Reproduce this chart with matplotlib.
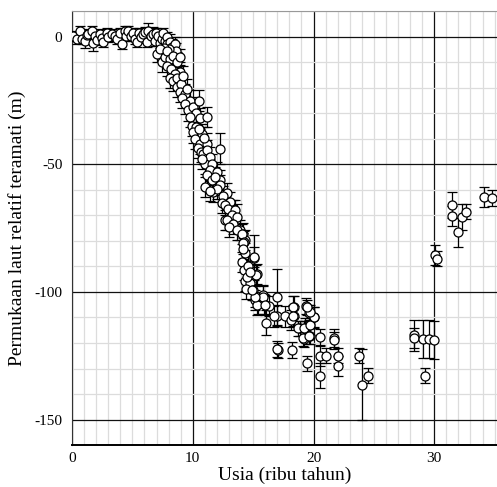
import matplotlib
matplotlib.use("Agg")
import matplotlib.pyplot as plt
from matplotlib.ticker import MultipleLocator

plt.rcParams['font.family'] = ['Liberation Serif', 'DejaVu Serif']
plt.rcParams['axes.unicode_minus'] = False

# Holocene plateau (ka, m, err)
holo_age = [0.05, 0.4, 0.66, 0.8, 1.08, 1.2, 1.35, 1.63, 1.75, 1.9, 2.1, 2.32, 2.45, 2.6,
            2.87, 3.0, 3.29, 3.56, 3.75, 3.98, 4.12, 4.39, 4.5, 4.67, 4.86, 5.08, 5.2, 5.36,
            5.58, 5.75, 5.91, 6.05, 6.19, 6.32, 6.5, 6.74, 6.85, 6.96, 7.15, 7.3, 7.43, 7.57,
            7.7, 7.85]
holo_level = [0.4, -1.0, 2.3, -0.9, -1.6, 0.5, 1.0, 2.1, -2.5, 0.4, -1.2, 1.0, -0.5, -2.2,
              1.3, 0.0, 1.0, 0.4, -1.0, 1.3, -2.9, 2.1, 0.2, 2.3, 0.4, 1.6, -0.8, -2.2,
              1.6, -0.3, 1.0, 2.0, -2.2, 2.3, 0.2, 1.0, -1.5, 1.6, 0.4, -2.5, -0.9, 1.3,
              -1.8, -0.3]
holo_err = [2, 2, 2, 2, 3, 2, 2, 2, 3, 2, 2, 2, 2, 2,
            2, 2, 2, 2, 2, 2, 2, 2, 2, 2, 2, 2, 2, 2,
            2, 2, 2, 2, 2, 3, 2, 3, 2, 2, 2, 2, 2, 2,
            2, 2]

# deglaciation
degl_age = [7.9, 8.1, 8.3, 8.5, 8.6, 8.0, 7.6, 7.02, 7.3, 7.43, 7.7, 7.85, 8.12, 8.4,
            8.67, 8.9, 8.95, 7.9, 8.2, 8.5, 8.1, 8.4, 8.7, 8.67, 9.06, 9.2, 8.9, 9.36,
            9.1, 9.5, 9.78, 9.36, 9.64, 10.05, 10.55, 10.3, 9.8, 10.6, 11.16, 9.92, 10.3,
            10.0, 10.74, 10.5, 10.18, 10.6, 11.16, 10.9, 12.26, 10.4, 10.7, 10.88, 11.2,
            11.43, 11.02, 10.8, 11.6, 11.43, 11.98, 11.2, 11.57, 12.26, 11.8, 11.02, 11.71,
            12.26, 12.0, 11.4, 12.82, 12.5, 13.1, 12.4, 12.68, 13.37, 12.9, 13.5, 12.68,
            13.23, 13.65, 12.82, 13.37, 13.0, 13.92, 13.65, 14.2, 14.34, 14.1, 14.25, 14.2,
            14.3, 15.1, 14.1, 14.25, 15.3, 14.3, 14.75, 14.4, 14.95, 15.25, 15.1, 14.6,
            14.5, 14.7, 14.2]
degl_level = [-3.0, -2.0, -4.0, -3.0, -5.5, -5.0, -4.5, -6.8, -5.0, -10.0, -8.0, -5.5, -8.7, -7.7,
              -10.0, -8.0, -13.9, -11.5, -12.5, -14.5, -16.0, -17.2, -16.0, -19.8, -18.5, -15.5, -21.5, -22.4,
              -24.0, -20.5, -25.0, -26.3, -28.9, -27.6, -25.0, -30.0, -31.5, -32.0, -31.5, -34.8, -35.4,
              -37.5, -38.0, -36.0, -40.0, -41.9, -41.9, -39.5, -43.9, -43.5, -45.0, -45.8, -44.5,
              -47.1, -49.7, -48.0, -50.0, -52.1, -53.0, -54.0, -56.2, -56.2, -55.0, -58.9, -60.8,
              -58.2, -59.5, -60.5, -61.4, -62.5, -64.7, -65.0, -66.0, -68.0, -67.5, -68.0, -71.9,
              -70.0, -70.6, -71.9, -73.2, -74.5, -75.8, -75.8, -77.1, -79.7, -77.3, -80.3, -81.0,
              -84.9, -86.5, -88.2, -91.4, -93.0, -95.6, -96.4, -98.8, -99.2, -93.4, -86.2, -90.0,
              -94.0, -92.0, -83.0]
degl_err = [3, 3, 3, 3, 3, 3, 3, 3, 3, 4, 3, 3, 4, 3,
            4, 3, 4, 4, 4, 4, 4, 4, 4, 4, 4, 4, 4, 4,
            4, 4, 4, 4, 4, 4, 4, 4, 4, 4, 4, 4, 4,
            4, 4, 4, 4, 4, 4, 4, 6, 4, 4, 4, 4,
            4, 4, 4, 4, 4, 4, 4, 4, 4, 4, 4, 4,
            4, 4, 4, 4, 4, 4, 4, 4, 4, 4, 4, 4,
            4, 5, 4, 4, 4, 4, 4, 4, 4, 4, 4, 4,
            4, 9, 4, 4, 4, 4, 4, 4, 4, 4, 4, 4,
            4, 4, 4]

# glacial lowstand
lgm_age = [15.8, 17.0, 15.15, 15.4, 15.9, 16.35, 16.95, 16.05, 17.6, 18.4, 18.4, 18.1,
           18.9, 19.3, 19.65, 20.05, 19.4, 19.65, 19.7, 19.2, 20.5, 21.7, 15.3, 15.85,
           15.15, 14.9, 16.0, 16.7, 18.3, 18.3, 18.75, 19.2, 19.1, 19.66, 19.7, 20.0,
           19.7, 19.45, 17.1, 17.0, 18.2, 19.5, 20.5, 21.0, 20.5, 22.0, 22.0, 21.7,
           23.8, 24.0, 24.5]
lgm_level = [-101.2, -102.0, -103.1, -104.8, -104.8, -105.5, -109.3, -112.0, -109.6, -105.7, -109.6, -111.0,
             -114.2, -114.2, -112.9, -109.9, -105.5, -108.1, -117.2, -118.5, -117.7, -118.1, -105.1, -101.8,
             -101.8, -99.2, -105.1, -109.6, -105.7, -109.3, -114.2, -114.2, -118.1, -117.2, -112.9, -110.0,
             -108.0, -106.0, -122.9, -122.3, -122.7, -127.9, -125.0, -125.0, -132.8, -125.0, -128.9, -119.0,
             -125.0, -136.3, -132.8]
lgm_err = [4, 11, 4, 4, 4, 4, 4, 5, 4, 4, 4, 4,
           3, 4, 4, 4, 3, 3, 3, 3, 3, 3.5, 4, 4,
           4, 4, 4, 4, 4, 4, 3, 3, 3, 3, 4, 4,
           3, 3, 3, 3, 3, 3, 4, 3, 5, 3, 4, 3.5,
           3, 14, 3]

# older samples
old_age = [28.3, 28.3, 29.05, 29.6, 30.0, 29.2, 30.1, 30.2, 31.46, 31.5, 32.3, 32.6, 32.0, 34.1, 34.8]
old_level = [-117.0, -118.0, -118.5, -118.5, -118.8, -132.8, -85.5, -87.0, -66.0, -70.3, -70.6, -68.6, -76.7, -62.8, -63.2]
old_err = [6, 4, 7.5, 7.5, 7.5, 3, 4, 3, 5, 4, 5, 3, 5.6, 4, 3]

fig = plt.figure(figsize=(4.97, 4.87), dpi=100)
ax = fig.add_axes([0.145, 0.086, 0.855, 0.891])

for a, l, e in [(holo_age, holo_level, holo_err), (degl_age, degl_level, degl_err),
                (lgm_age, lgm_level, lgm_err), (old_age, old_level, old_err)]:
    ax.errorbar(a, l, yerr=e, fmt='o', ms=6.5, mfc='white', mec='black', mew=0.9,
                ecolor='black', elinewidth=0.9, capsize=3.5, capthick=0.9, zorder=3)

ax.set_xlim(0, 35.2)
ax.set_ylim(-160, 10)
ax.xaxis.set_major_locator(MultipleLocator(10))
ax.xaxis.set_minor_locator(MultipleLocator(1))
ax.set_yticks([-150, -100, -50, 0])
ax.yaxis.set_minor_locator(MultipleLocator(10))
ax.grid(which='minor', color='#dcdcdc', lw=0.9)
ax.grid(which='major', color='#111111', lw=0.9)
ax.set_axisbelow(True)
ax.tick_params(which='both', length=0)
ax.tick_params(axis='y', pad=7, labelsize=11)
ax.tick_params(axis='x', pad=5, labelsize=11)

ax.spines['right'].set_visible(False)
ax.spines['top'].set_color('#999999')
ax.spines['left'].set_color('#333333')
ax.spines['bottom'].set_color('black')
ax.spines['bottom'].set_linewidth(1.4)

ax.set_xlabel('Usia (ribu tahun)', fontsize=14, labelpad=1)
ax.set_ylabel('Permukaan laut relatif teramati (m)', fontsize=14, labelpad=6)

fig.savefig('out.png', dpi=100)
